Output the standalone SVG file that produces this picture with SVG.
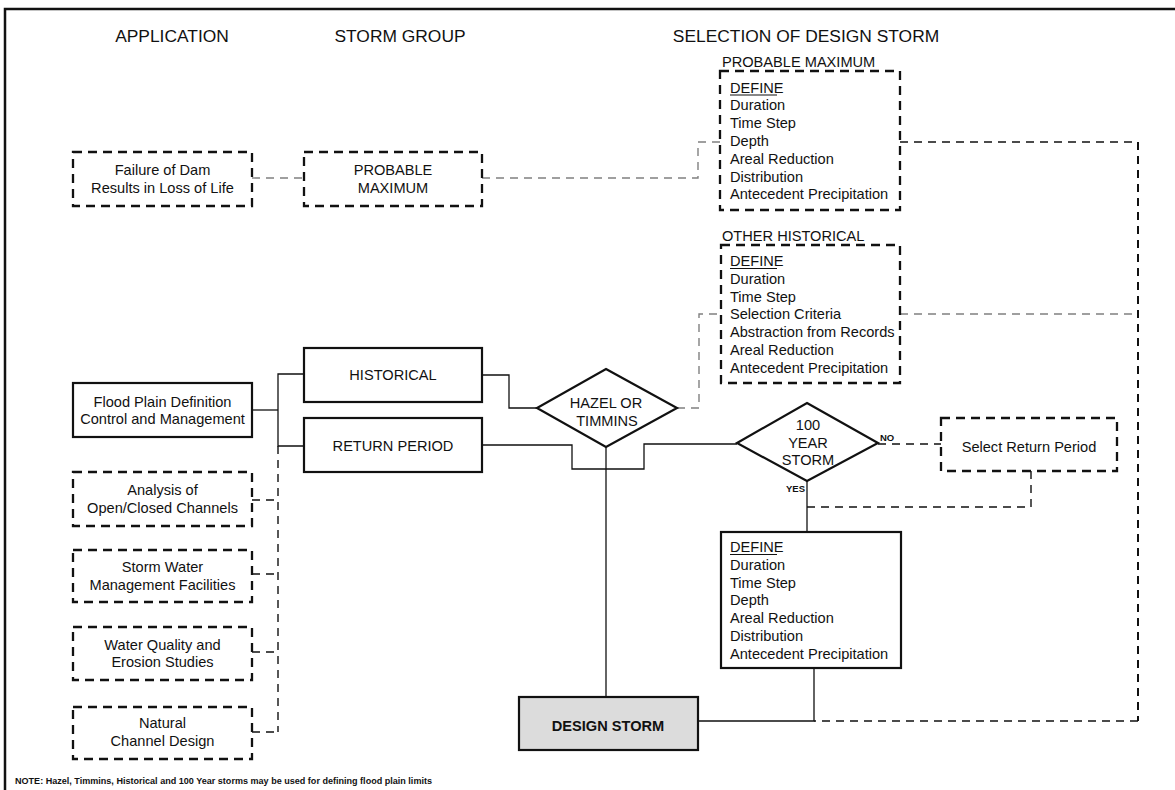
<svg xmlns="http://www.w3.org/2000/svg" width="1175" height="790" viewBox="0 0 1175 790">
<style>
text{font-family:"Liberation Sans",Arial,sans-serif;fill:#111}
.h{font-size:17.4px}
.t{font-size:14.6px}
.c{text-anchor:middle}
.sm{font-size:9.5px;font-weight:bold}
.b{font-weight:bold}
.dbox{fill:#fff;stroke:#111;stroke-width:2.3;stroke-dasharray:9 6}
.sbox{fill:#fff;stroke:#111;stroke-width:2.2}
.dia{fill:#fff;stroke:#111;stroke-width:2.2}
.sl{fill:none;stroke:#111;stroke-width:1.3}
.dl{fill:none;stroke:#111;stroke-width:1.4;stroke-dasharray:8 6}
.dk{fill:none;stroke:#111;stroke-width:2;stroke-dasharray:8 6}
.gl{fill:none;stroke:#808080;stroke-width:1.4;stroke-dasharray:8 6}
</style>
<rect width="1175" height="790" fill="#fff"/>
<path d="M5,790 V9 H1175" fill="none" stroke="#111" stroke-width="2.5"/>

<g id="headers">
<text class="h c" x="172" y="42">APPLICATION</text>
<text class="h c" x="400" y="42">STORM GROUP</text>
<text class="h c" x="806" y="42">SELECTION OF DESIGN STORM</text>
</g>

<g id="connectors">
<path class="gl" d="M252,178 H304"/>
<path class="gl" d="M482,178 H698 V142 H720"/>
<path class="dl" d="M900,142 H1138"/>
<path class="dk" d="M1138,142 V721"/>
<path class="dl" d="M1138,721 H814"/>
<path class="gl" d="M900,314 H1138"/>
<path class="gl" d="M677,408 H699 V314 H721"/>
<path class="sl" d="M252,410 H278"/>
<path class="sl" d="M304,374 H278 V446 H304"/>
<path class="dl" d="M278,446 V732"/>
<path class="dl" d="M252,500 H278 M252,574 H278 M252,652 H278 M252,732 H278"/>
<path class="sl" d="M482,375 H509 V408 H537"/>
<path class="sl" d="M482,445 H572 V469 H644 V444 H737"/>
<path class="sl" d="M606,447 V697"/>
<path class="dl" d="M878,444 H941"/>
<path class="dl" d="M1031,471 V507 H807"/>
<path class="sl" d="M807,481 V532"/>
<path class="sl" d="M814,668 V721 H698"/>
</g>

<g id="failure-of-dam">
<rect class="dbox" x="73" y="152" width="179" height="54"/>
<text class="t c" x="162.5" y="175">Failure of Dam</text>
<text class="t c" x="162.5" y="193">Results in Loss of Life</text>
</g>
<g id="flood-plain">
<rect class="sbox" x="73" y="383" width="179" height="54"/>
<text class="t c" x="162.5" y="407">Flood Plain Definition</text>
<text class="t c" x="162.5" y="424">Control and Management</text>
</g>
<g id="open-closed-channels">
<rect class="dbox" x="73" y="472" width="179" height="54"/>
<text class="t c" x="162.5" y="495">Analysis of</text>
<text class="t c" x="162.5" y="513">Open/Closed Channels</text>
</g>
<g id="storm-water">
<rect class="dbox" x="73" y="550" width="179" height="52"/>
<text class="t c" x="162.5" y="572">Storm Water</text>
<text class="t c" x="162.5" y="590">Management Facilities</text>
</g>
<g id="water-quality">
<rect class="dbox" x="73" y="627" width="179" height="53"/>
<text class="t c" x="162.5" y="650">Water Quality and</text>
<text class="t c" x="162.5" y="667">Erosion Studies</text>
</g>
<g id="natural-channel">
<rect class="dbox" x="73" y="707" width="179" height="52"/>
<text class="t c" x="162.5" y="728">Natural</text>
<text class="t c" x="162.5" y="746">Channel Design</text>
</g>

<g id="probable-maximum-group">
<rect class="dbox" x="304" y="152" width="178" height="54"/>
<text class="t c" x="393" y="175">PROBABLE</text>
<text class="t c" x="393" y="193">MAXIMUM</text>
</g>
<g id="historical">
<rect class="sbox" x="304" y="348" width="178" height="54"/>
<text class="t c" x="393" y="380">HISTORICAL</text>
</g>
<g id="return-period">
<rect class="sbox" x="304" y="418" width="178" height="54"/>
<text class="t c" x="393" y="451">RETURN PERIOD</text>
</g>

<g id="pm-define">
<text class="t" x="722" y="67">PROBABLE MAXIMUM</text>
<rect class="dbox" x="720" y="71" width="180" height="139"/>
<text class="t" x="730" y="92.5">DEFINE</text>
<path d="M730,95 H777" stroke="#111" stroke-width="1.2"/>
<text class="t" x="730" y="110.3">Duration</text>
<text class="t" x="730" y="128.1">Time Step</text>
<text class="t" x="730" y="145.9">Depth</text>
<text class="t" x="730" y="163.7">Areal Reduction</text>
<text class="t" x="730" y="181.5">Distribution</text>
<text class="t" x="730" y="199.3">Antecedent Precipitation</text>
</g>

<g id="oh-define">
<text class="t" x="722" y="241">OTHER HISTORICAL</text>
<rect class="dbox" x="721" y="245" width="179" height="138"/>
<text class="t" x="730" y="266">DEFINE</text>
<path d="M730,268.5 H777" stroke="#111" stroke-width="1.2"/>
<text class="t" x="730" y="283.8">Duration</text>
<text class="t" x="730" y="301.6">Time Step</text>
<text class="t" x="730" y="319.4">Selection Criteria</text>
<text class="t" x="730" y="337.2">Abstraction from Records</text>
<text class="t" x="730" y="355">Areal Reduction</text>
<text class="t" x="730" y="372.8">Antecedent Precipitation</text>
</g>

<g id="hazel-timmins">
<polygon class="dia" points="606,369 677,408 606,447 537,408"/>
<text class="t c" x="606" y="408">HAZEL OR</text>
<text class="t c" x="607" y="426">TIMMINS</text>
</g>

<g id="hundred-year">
<polygon class="dia" points="807,403 878,443 807,481 737,443"/>
<text class="t c" x="808" y="430">100</text>
<text class="t c" x="808" y="448">YEAR</text>
<text class="t c" x="808" y="465">STORM</text>
<text class="sm" x="880" y="441">NO</text>
<text class="sm" x="805" y="492" text-anchor="end">YES</text>
</g>

<g id="select-return-period">
<rect class="dbox" x="941" y="418" width="176" height="53"/>
<text class="t c" x="1029" y="452">Select Return Period</text>
</g>

<g id="define-100yr">
<rect class="sbox" x="721" y="532" width="180" height="136"/>
<text class="t" x="730" y="552">DEFINE</text>
<path d="M730,554.5 H777" stroke="#111" stroke-width="1.2"/>
<text class="t" x="730" y="569.8">Duration</text>
<text class="t" x="730" y="587.6">Time Step</text>
<text class="t" x="730" y="605.4">Depth</text>
<text class="t" x="730" y="623.2">Areal Reduction</text>
<text class="t" x="730" y="641">Distribution</text>
<text class="t" x="730" y="658.8">Antecedent Precipitation</text>
</g>

<g id="design-storm">
<rect x="519" y="697" width="179" height="53" fill="#dcdcdc" stroke="#111" stroke-width="2.2"/>
<text class="t c b" x="608" y="731">DESIGN STORM</text>
</g>

<g id="note">
<text x="15" y="784" font-size="9" font-weight="bold" textLength="417" lengthAdjust="spacingAndGlyphs">NOTE: Hazel, Timmins, Historical and 100 Year storms may be used for defining flood plain limits</text>
</g>
</svg>
